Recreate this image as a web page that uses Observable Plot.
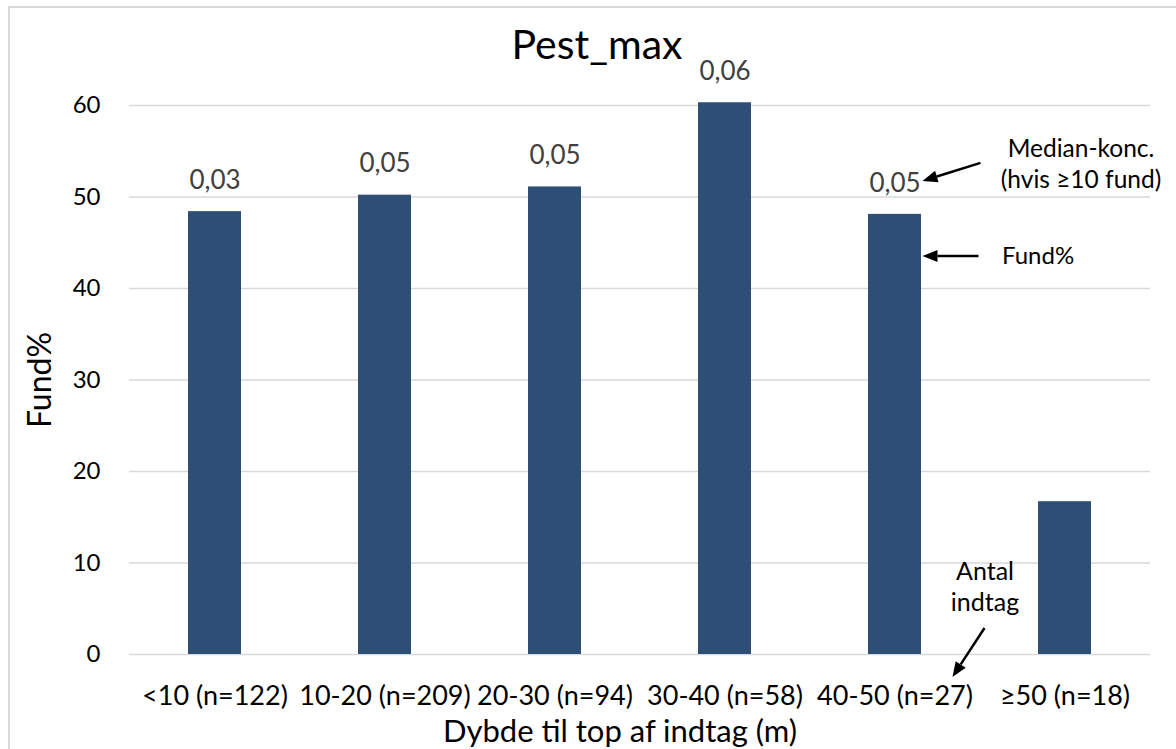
<!DOCTYPE html>
<html>
<head>
<meta charset="utf-8">
<script src="https://cdn.jsdelivr.net/npm/d3@7"></script>
<script src="https://cdn.jsdelivr.net/npm/@observablehq/plot@0.6"></script>
<style>
  html, body { margin: 0; padding: 0; background: #fff; overflow: hidden; }
  #chart { position: relative; width: 1176px; height: 749px; overflow: hidden; }
  #chart .border { position: absolute; left: 8px; top: 6px; width: 1220px; height: 800px;
                   border: 2px solid #d9d9d9; box-sizing: border-box; }
  #chart svg { position: absolute; left: 0; top: 0; }
</style>
</head>
<body>
<div id="chart"><div class="border"></div></div>
<script>
// Depth classes (with number of intakes), share with findings and median concentration
const categories = ["<10 (n=122)", "10-20 (n=209)", "20-30 (n=94)", "30-40 (n=58)", "40-50 (n=27)", "≥50 (n=18)"];
const fundPct = [48.4, 50.2, 51.1, 60.3, 48.1, 16.7];
const medianConc = [0.03, 0.05, 0.05, 0.06, 0.05, null]; // only shown with ≥10 findings
const yTicks = [0, 10, 20, 30, 40, 50, 60];

const titleText = "Pest_max";
const xTitle = "Dybde til top af indtag (m)";
const yTitle = "Fund%";

const rows = categories.map((c, i) => ({category: c, fund: fundPct[i], median: medianConc[i]}));
const dk = d3.formatLocale({decimal: ",", thousands: ".", grouping: [3], currency: ["", " kr"]});
const fmt = dk.format(".2f");

// Legend-style notes, anchored to the 40-50 m bar
const noteBar = rows[4];
const notes = [
  {category: noteBar.category, value: noteBar.fund, text: "Median-konc.\n(hvis ≥10 fund)", dx: 186, dy: -52, size: 24.5, anchor: "middle", lh: 1.3},
  {category: noteBar.category, value: noteBar.fund, text: "Fund%", dx: 107, dy: 42, size: 24, anchor: "start", lh: 1},
  {category: noteBar.category, value: 0, text: "Antal\nindtag", dx: 90, dy: -69, size: 25, anchor: "middle", lh: 1.25}
];
const arrows = [
  {category: noteBar.category, value: noteBar.fund, from: [86, -51], to: [28, -33]},
  {category: noteBar.category, value: noteBar.fund, from: [84, 42], to: [28, 42]},
  {category: noteBar.category, value: 0, from: [90, -26], to: [58, 23]}
];

function drawArrows(index, scales) {
  const {x, y} = scales;
  const bw = x.bandwidth ? x.bandwidth() / 2 : 0;
  const g = d3.create("svg:g");
  for (const a of arrows) {
    const cx = x(a.category) + bw, cy = y(a.value);
    const x1 = cx + a.from[0], y1 = cy + a.from[1];
    const x2 = cx + a.to[0], y2 = cy + a.to[1];
    const ang = Math.atan2(y2 - y1, x2 - x1);
    const head = 15, half = 6;
    const bx = x2 - head * Math.cos(ang), by = y2 - head * Math.sin(ang);
    const px = -Math.sin(ang) * half, py = Math.cos(ang) * half;
    g.append("line").attr("x1", x1).attr("y1", y1).attr("x2", bx).attr("y2", by)
      .attr("stroke", "#000").attr("stroke-width", 2.5);
    g.append("path").attr("d", `M${x2},${y2}L${bx + px},${by + py}L${bx - px},${by - py}Z`).attr("fill", "#000");
  }
  return g.node();
}

const chart = Plot.plot({
  width: 1176,
  height: 749,
  marginLeft: 129,
  marginRight: 26,
  marginTop: 105,
  marginBottom: 95,
  style: {fontFamily: "Lato, 'Open Sans', sans-serif", color: "#000", background: "transparent"},
  x: {domain: categories, paddingInner: 0.69, paddingOuter: 0.345, axis: null},
  y: {domain: [0, 60], axis: null},
  marks: [
    Plot.gridY(yTicks, {stroke: "#d9d9d9", strokeOpacity: 1, strokeWidth: 1.5}),
    Plot.axisY(yTicks, {tickSize: 0, tickPadding: 29, fontSize: 24, label: null}),
    Plot.axisX({tickSize: 0, tickPadding: 31, fontSize: 27, label: null}),
    Plot.barY(rows, {x: "category", y: "fund", fill: "#2e4e75"}),
    Plot.text(rows.filter(d => d.median != null), {x: "category", y: "fund", text: d => fmt(d.median), dy: -31, fontSize: 26, fill: "#404040"}),
    Plot.text([titleText], {frameAnchor: "top", lineAnchor: "middle", textAnchor: "middle", dx: -43, dy: -60, fontSize: 41, fill: "#000"}),
    Plot.text([xTitle], {frameAnchor: "bottom", lineAnchor: "middle", textAnchor: "middle", dx: -20, dy: 78, fontSize: 31, fill: "#000"}),
    Plot.text([yTitle], {frameAnchor: "left", lineAnchor: "middle", textAnchor: "middle", dx: -89, rotate: -90, fontSize: 32, fill: "#000"}),
    ...notes.map(n => Plot.text([n], {x: "category", y: "value", text: "text", dx: n.dx, dy: n.dy,
      fontSize: n.size, textAnchor: n.anchor, lineHeight: n.lh, fill: "#000"})),
    drawArrows
  ]
});
document.getElementById("chart").appendChild(chart);
</script>
</body>
</html>
